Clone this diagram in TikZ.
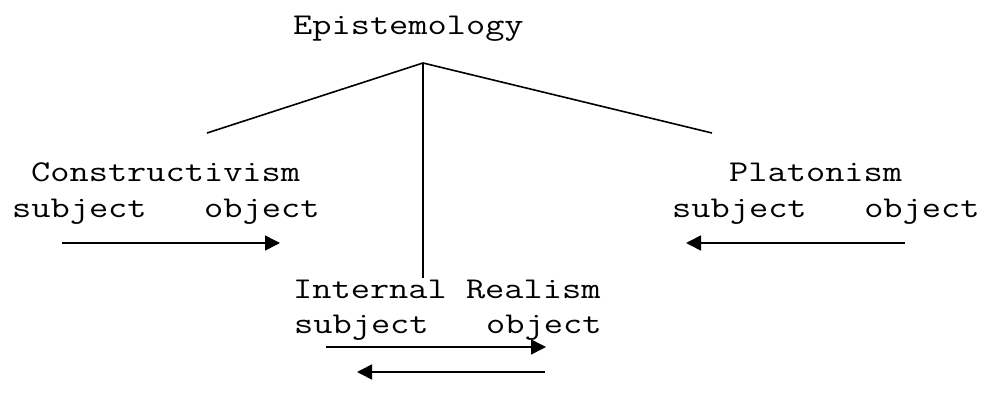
\documentclass[tikz,border=0pt]{standalone}
\usepackage{fontspec}
\setmonofont[FakeStretch=1.235]{Latin Modern Mono}
\usetikzlibrary{arrows.meta}
\begin{document}
\begin{tikzpicture}[x=1pt,y=-1pt,
  lbl/.style={anchor=base west,inner sep=0pt,font=\ttfamily\fontsize{30.2}{36}\selectfont},
  tree/.style={line width=1.6pt},
  rel/.style={line width=1.6pt,-{Triangle[length=15pt,width=15pt]}}]
\useasboundingbox (0,0) rectangle (984,406);
% texts
\node[lbl] (epi) at (293,35) {Epistemology};
\node[lbl] (con) at (31,182) {Constructivism};
\node[lbl] (conso) at (12,217) {subject\ \ \ object};
\node[lbl] (pla) at (729,182) {Platonism};
\node[lbl] (plaso) at (672,217) {subject\ \ \ object};
\node[lbl] (ir) at (293,298) {Internal Realism};
\node[lbl] (irso) at (294,333) {subject\ \ \ object};
% tree
\coordinate (apex) at (423,63);
\coordinate (lend) at (207,133);
\coordinate (rend) at (712,133);
\coordinate (bend) at (423,278);
\draw[tree] (lend) -- (apex) -- (rend);
\draw[tree] (apex) -- (bend);
% arrows
\coordinate (a1s) at (62,243);
\coordinate (a1e) at (280,243);
\coordinate (a2s) at (905,243);
\coordinate (a2e) at (686,243);
\coordinate (a3s) at (326,347);
\coordinate (a3e) at (546,347);
\coordinate (a4s) at (545,372);
\coordinate (a4e) at (357,372);
\draw[rel] (a1s) -- (a1e);
\draw[rel] (a2s) -- (a2e);
\draw[rel] (a3s) -- (a3e);
\draw[rel] (a4s) -- (a4e);
\end{tikzpicture}
\end{document}
